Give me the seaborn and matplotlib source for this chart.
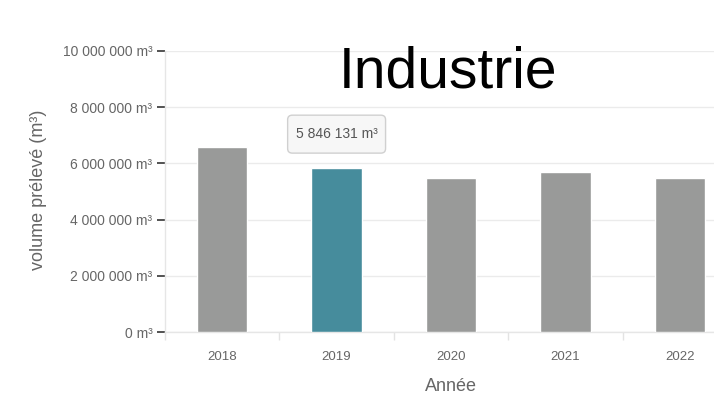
import matplotlib
matplotlib.use("Agg")
import matplotlib.pyplot as plt
from matplotlib.patches import FancyBboxPatch
from matplotlib.ticker import FixedLocator, FuncFormatter
import seaborn as sns
import pandas as pd

# Volumes prélevés par année (m³)
annees = ["2018", "2019", "2020", "2021", "2022"]
volumes = [6590000, 5846131, 5470000, 5680000, 5470000]
annee_active = "2019"
yticks = [0, 2000000, 4000000, 6000000, 8000000, 10000000]

titre = "Industrie"
label_y = "volume prélevé (m³)"
label_x = "Année"

GRIS = "#999a99"
BLEU = "#468c9c"
TEXTE = "#666666"

sns.set_theme(style="white")
plt.rcParams["font.family"] = ["Liberation Sans", "DejaVu Sans"]


def fmt_m3(v, _pos=None):
    return f"{int(v):,}".replace(",", " ") + " m³"


df = pd.DataFrame({"annee": annees, "volume": volumes})
palette = {a: (BLEU if a == annee_active else GRIS) for a in annees}

fig = plt.figure(figsize=(7.14, 3.96), dpi=100)
ax = fig.add_axes([165 / 714, 1 - 332 / 396, 572 / 714, 281 / 396])

sns.barplot(data=df, x="annee", y="volume", hue="annee", palette=palette,
            width=0.44, saturation=1, legend=False, ax=ax, zorder=3)

ax.set_xlim(-0.5, len(annees) - 0.5)
ax.set_ylim(0, yticks[-1])
ax.yaxis.set_major_locator(FixedLocator(yticks))
ax.yaxis.set_major_formatter(FuncFormatter(fmt_m3))

# grille horizontale claire
ax.grid(axis="y", color="#ebebeb", linewidth=1, zorder=0)
ax.grid(axis="x", visible=False)
for side in ("top", "right"):
    ax.spines[side].set_visible(False)
for side in ("left", "bottom"):
    ax.spines[side].set_color("#e6e6e6")
    ax.spines[side].set_linewidth(1)

ax.tick_params(axis="y", which="major", left=True, length=6, width=1.3,
               color="#444444", labelsize=10, labelcolor=TEXTE, pad=3)
ax.tick_params(axis="x", which="major", bottom=False, labelsize=9.5,
               labelcolor=TEXTE, pad=8)
# séparateurs de catégories sous l'axe
ax.xaxis.set_minor_locator(FixedLocator([i - 0.5 for i in range(len(annees) + 1)]))
ax.tick_params(axis="x", which="minor", bottom=True, length=6, width=1,
               color="#e3e3e3")

ax.set_ylabel(label_y, fontsize=13, color=TEXTE)
ax.yaxis.set_label_coords(-0.207, 0.505)
ax.set_xlabel(label_x, fontsize=13, color=TEXTE)
ax.xaxis.set_label_coords(0.5, -0.165)

# infobulle au-dessus de la barre active
i_act = annees.index(annee_active)
v_act = volumes[i_act]
bas = v_act + 520000
haut = bas + 1350000
demi = 0.428
bulle = FancyBboxPatch((i_act - demi, bas), 2 * demi, haut - bas,
                       boxstyle="round,pad=0,rounding_size=0.04",
                       mutation_aspect=1350000 / 0.33,
                       facecolor="#f7f7f7", edgecolor="#d0d0d0",
                       linewidth=1, zorder=5, clip_on=False)
ax.add_patch(bulle)
ax.text(i_act, (bas + haut) / 2, fmt_m3(v_act), ha="center", va="center",
        fontsize=10, color="#555555", zorder=6)

fig.text(448.5 / 714, 1 - 87 / 396, titre, ha="center", va="baseline",
         fontsize=41, color="black")

fig.savefig("out.png", dpi=100)
